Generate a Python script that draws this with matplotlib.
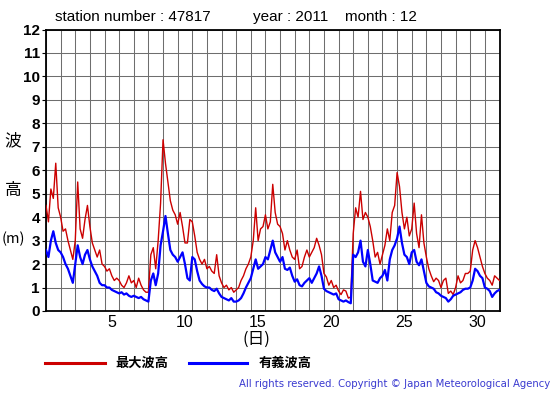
import numpy as np
import matplotlib
matplotlib.use("Agg")
import matplotlib.pyplot as plt
from matplotlib.lines import Line2D

# ---------------- data ----------------
station = "47817"
year = "2011"
month = "12"
samples_per_day = 6          # 4-hourly readings
n_days = 31

# significant wave height (m), 6 values per day, plus the end point
sig_wave = [
    2.6, 2.3, 3.0, 3.4, 2.9, 2.6,
    2.5, 2.3, 2.0, 1.8, 1.5, 1.2,
    2.0, 2.8, 2.3, 2.0, 2.4, 2.6,
    2.2, 1.9, 1.7, 1.5, 1.2, 1.1,
    1.1, 1.0, 1.0, 0.9, 0.85, 0.8,
    0.75, 0.8, 0.7, 0.75, 0.65, 0.6,
    0.65, 0.6, 0.55, 0.6, 0.5, 0.45,
    0.4, 1.3, 1.6, 1.1, 1.6, 2.8,
    3.4, 4.05, 3.3, 2.6, 2.4, 2.3,
    2.1, 2.3, 2.5, 2.0, 1.4, 1.3,
    2.3, 2.2, 1.7, 1.3, 1.15, 1.05,
    1.0, 1.0, 0.9, 0.85, 0.95, 0.75,
    0.6, 0.55, 0.5, 0.45, 0.55, 0.4,
    0.4, 0.45, 0.55, 0.75, 1.0, 1.2,
    1.4, 1.8, 2.2, 1.8, 1.9, 2.0,
    2.3, 2.2, 2.6, 3.0, 2.5, 2.3,
    2.1, 2.3, 1.8, 1.75, 1.85, 1.5,
    1.25, 1.35, 1.1, 1.05, 1.2, 1.3,
    1.4, 1.2, 1.4, 1.6, 1.9, 1.5,
    0.95, 0.85, 0.8, 0.75, 0.7, 0.75,
    0.5, 0.45, 0.4, 0.45, 0.38, 0.33,
    2.4, 2.3, 2.5, 3.0, 2.1, 1.9,
    2.6, 2.0, 1.3, 1.25, 1.2, 1.4,
    1.5, 1.75, 1.3, 2.2, 2.6, 2.8,
    3.1, 3.6, 2.9, 2.4, 2.3, 2.0,
    2.5, 2.6, 2.1, 1.95, 2.2, 1.7,
    1.2, 1.05, 1.0, 0.95, 0.8, 0.75,
    0.65, 0.6, 0.55, 0.4, 0.5, 0.65,
    0.7, 0.75, 0.8, 0.9, 0.95, 0.95,
    1.0, 1.3, 1.8, 1.7, 1.5, 1.4,
    1.0, 0.95, 0.85, 0.6, 0.75, 0.85,
    0.9,
]

# maximum wave height (m)
max_wave = [
    4.5, 3.8, 5.2, 4.8, 6.3, 4.4,
    4.0, 3.4, 3.5, 3.0, 2.6, 2.2,
    3.0, 5.5, 3.5, 3.1, 3.9, 4.5,
    3.6, 2.9, 2.6, 2.3, 2.6, 2.0,
    1.9, 1.7, 1.8, 1.5, 1.3, 1.4,
    1.3, 1.1, 1.0, 1.2, 1.5, 1.2,
    1.3, 1.0, 1.4, 1.1, 0.9, 0.8,
    0.8, 2.4, 2.7, 1.8, 3.0, 4.6,
    7.3, 6.3, 5.5, 4.7, 4.3, 4.1,
    3.7, 4.2, 3.6, 2.9, 2.9, 3.9,
    3.8, 3.2, 2.5, 2.2, 2.0, 2.2,
    1.8, 1.9, 1.7, 1.6, 2.4, 1.5,
    1.2, 1.0, 1.1, 0.9, 1.0, 0.8,
    0.9, 1.0, 1.3, 1.5, 1.8, 2.0,
    2.3, 3.0, 4.4, 3.0, 3.5, 3.6,
    4.1, 3.5, 3.8, 5.4, 4.2, 3.7,
    3.6, 3.3, 2.6, 3.0, 2.6, 2.3,
    2.2, 2.6, 1.8, 1.9, 2.3, 2.6,
    2.3, 2.5, 2.7, 3.1, 2.8, 2.4,
    1.6, 1.45, 1.1, 1.3, 1.0, 1.1,
    0.85, 0.7, 0.9, 0.85, 0.55, 0.6,
    3.3, 4.4, 4.0, 5.1, 3.9, 4.2,
    4.0, 3.6, 3.0, 2.3, 2.5, 2.0,
    2.4, 2.8, 3.5, 3.0, 4.2, 4.5,
    5.9, 5.3, 4.2, 3.5, 4.0, 3.2,
    3.5, 4.6, 3.3, 2.7, 4.1, 2.9,
    2.3, 1.8, 1.5, 1.25, 1.4, 1.3,
    1.0, 1.3, 1.4, 0.75, 0.85, 0.7,
    1.0, 1.5, 1.2, 1.3, 1.6, 1.6,
    1.7, 2.6, 3.0, 2.7, 2.3, 1.9,
    1.6, 1.4, 1.3, 1.1, 1.5, 1.4,
    1.3,
]

x_tick_days = [5, 10, 15, 20, 25, 30]
y_ticks = list(range(0, 13))
legend_labels = ["最大波高", "有義波高"]
copyright_text = "All rights reserved. Copyright © Japan Meteorological Agency"

# ---------------- figure ----------------
W, H = 555, 395
fig = plt.figure(figsize=(W / 100, H / 100), dpi=100)
left, right, top, bottom = 46, 499.5, 29.5, 311
ax = fig.add_axes([left / W, 1 - bottom / H, (right - left) / W, (bottom - top) / H])

t = np.arange(len(sig_wave)) / samples_per_day
RED = "#cc0000"
BLUE = "#0000ff"

ax.plot(t, max_wave, color=RED, lw=1.0, zorder=3)
ax.plot(t, sig_wave, color=BLUE, lw=1.6, zorder=4)

ax.set_xlim(0, n_days)
ax.set_ylim(0, 12)

# grid: one cell per day, one per metre
ax.set_xticks(np.arange(0, n_days + 1), minor=True)
ax.set_xticks([d - 0.5 for d in x_tick_days])
ax.set_xticklabels([str(d) for d in x_tick_days], fontsize=11.5,
                   family="Liberation Sans")
ax.set_yticks(y_ticks)
ax.set_yticklabels([str(v) for v in y_ticks], fontsize=11,
                   family="Liberation Sans", fontweight="bold")
ax.grid(which="minor", axis="x", color="#6e6e6e", lw=0.75, zorder=1)
ax.grid(which="major", axis="y", color="#6e6e6e", lw=0.75, zorder=1)
ax.tick_params(axis="x", which="both", length=0, pad=3)
ax.tick_params(axis="y", length=3, width=0.8, pad=1.5)
for s in ax.spines.values():
    s.set_linewidth(1.3)
    s.set_color("black")
ax.set_axisbelow(True)

# titles / labels
tfont = dict(family="Liberation Sans", fontsize=11, va="center", ha="left")
fig.text(55 / W, 1 - 17 / H, f"station number : {station}", **tfont)
fig.text(253 / W, 1 - 17 / H, f"year : {year}", **tfont)
fig.text(345 / W, 1 - 17 / H, f"month : {month}", **tfont)

cjk = ["Noto Sans CJK JP", "DejaVu Sans"]
fig.text(13 / W, 1 - 141 / H, "波", family=cjk, fontsize=12, ha="center", va="center")
fig.text(13 / W, 1 - 191 / H, "高", family=cjk, fontsize=12, ha="center", va="center")
fig.text(13 / W, 1 - 239 / H, "(m)", family=cjk, fontsize=10.5, ha="center", va="center")
fig.text(256 / W, 1 - 339 / H, "(日)", family=cjk, fontsize=12, ha="center", va="center")

# legend (manual)
fig.add_artist(Line2D([45 / W, 105 / W], [1 - 363 / H, 1 - 363 / H], color=RED, lw=2.2))
fig.add_artist(Line2D([189 / W, 247 / W], [1 - 363 / H, 1 - 363 / H], color=BLUE, lw=2.2))
fig.text(115 / W, 1 - 363 / H, legend_labels[0], family=cjk, fontsize=9.5,
         fontweight="bold", ha="left", va="center")
fig.text(259 / W, 1 - 363 / H, legend_labels[1], family=cjk, fontsize=9.5,
         fontweight="bold", ha="left", va="center")

fig.text(550 / W, 1 - 384 / H, copyright_text, family="DejaVu Sans", fontsize=7.3,
         color="#3a3ad0", ha="right", va="center")

fig.savefig("out.png", dpi=100)
